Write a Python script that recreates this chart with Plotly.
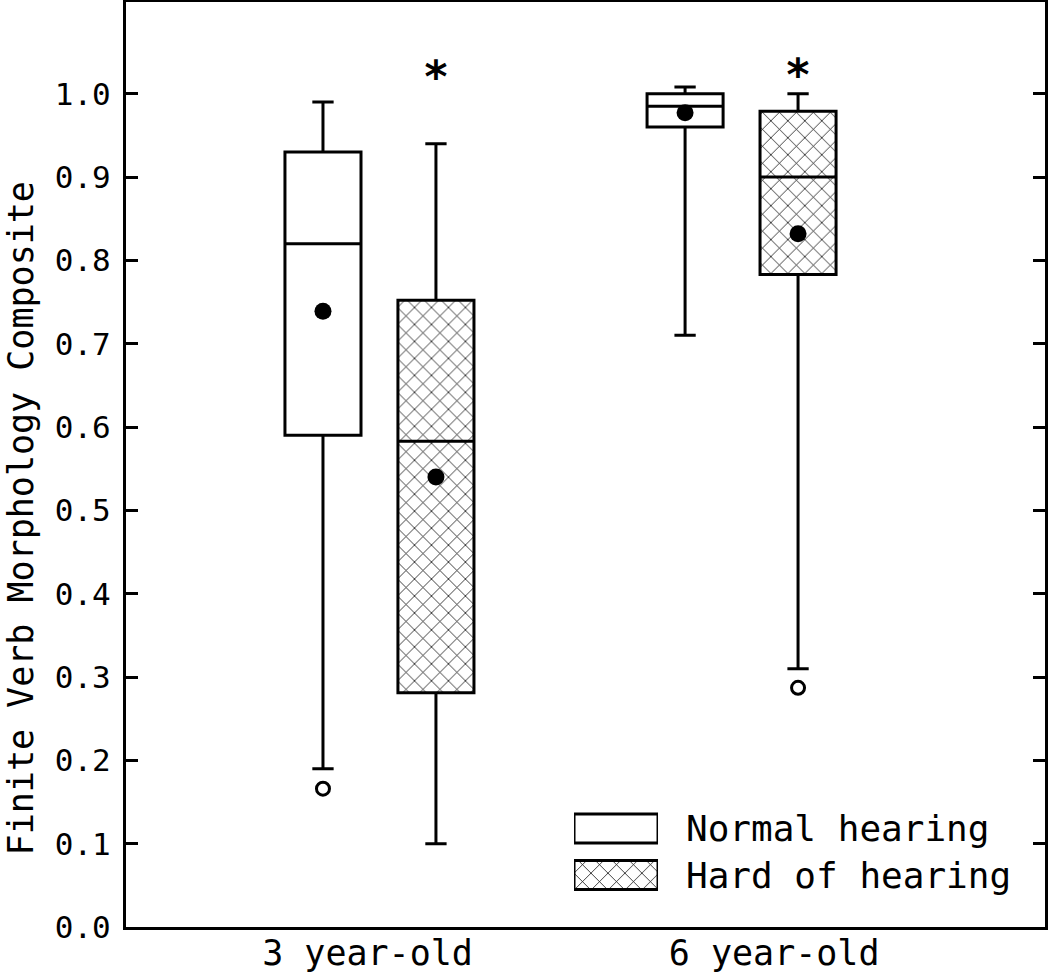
"""Box plots of finite verb morphology composite by age and hearing group."""

import plotly.graph_objects as go

# Groups on the x axis
ages = ["3 year-old", "6 year-old"]
age_pos = [1, 2]
age_label_pos = [0.967, 2.09]

# Normal hearing: five-number summary, mean, outliers
nh_lower = [0.19, 0.71]
nh_q1 = [0.59, 0.96]
nh_median = [0.82, 0.985]
nh_q3 = [0.93, 1.0]
nh_upper = [0.99, 1.008]
nh_mean = [0.739, 0.977]
nh_outlier_age = [0]
nh_outlier_val = [0.166]

# Hard of hearing
hh_lower = [0.10, 0.31]
hh_q1 = [0.281, 0.783]
hh_median = [0.583, 0.90]
hh_q3 = [0.752, 0.979]
hh_upper = [0.94, 1.0]
hh_mean = [0.540, 0.832]
hh_outlier_age = [1]
hh_outlier_val = [0.287]

# significance markers above the HH boxes
hh_sig = ["*", "*"]
hh_sig_y = [1.015, 1.018]

groups = ["Normal hearing", "Hard of hearing"]

OFFSET = 0.156
BOX_W = 0.21
FONT = "DejaVu Sans Mono"
HATCH = dict(fgcolor="black", bgcolor="white", fgopacity=1, size=12, solidity=0.12)


def shift(vals, d):
    return [v + d for v in vals]


def add_group(fig, name, xs, lower, q1, med, q3, upper, mean, out_x, out_y, hatched):
    pattern = dict(shape="x", **HATCH) if hatched else None
    # fill (hatch) under the box outline
    fig.add_trace(go.Bar(
        x=xs, y=[b - a for a, b in zip(q1, q3)], base=q1, width=BOX_W,
        marker=dict(color="white", line_width=0, pattern=pattern),
        showlegend=False, hoverinfo="skip",
    ))
    fig.add_trace(go.Box(
        x=xs, q1=q1, median=med, q3=q3, lowerfence=lower, upperfence=upper,
        width=BOX_W, whiskerwidth=0.28, fillcolor="rgba(0,0,0,0)",
        line=dict(color="black", width=3), boxpoints=False, name=name, showlegend=False,
    ))
    fig.add_trace(go.Scatter(
        x=xs, y=mean, mode="markers",
        marker=dict(color="black", size=17), showlegend=False,
    ))
    fig.add_trace(go.Scatter(
        x=[xs[i] for i in out_x], y=out_y, mode="markers",
        marker=dict(color="white", size=13, line=dict(color="black", width=3)),
        showlegend=False,
    ))


fig = go.Figure()
nh_x = shift(age_pos, -OFFSET)
hh_x = shift(age_pos, OFFSET)
add_group(fig, groups[0], nh_x, nh_lower, nh_q1, nh_median, nh_q3, nh_upper, nh_mean,
          nh_outlier_age, nh_outlier_val, False)
add_group(fig, groups[1], hh_x, hh_lower, hh_q1, hh_median, hh_q3, hh_upper, hh_mean,
          hh_outlier_age, hh_outlier_val, True)

fig.add_trace(go.Scatter(
    x=hh_x, y=hh_sig_y, mode="text", text=hh_sig,
    textfont=dict(family=FONT, size=44, color="black", weight="bold"), showlegend=False,
))

# legend drawn as swatches on a small hidden axis pair
fig.add_trace(go.Bar(
    y=groups, x=[1, 1], orientation="h", width=0.62, xaxis="x2", yaxis="y2",
    marker=dict(
        color="white", line=dict(color="black", width=3),
        pattern=dict(shape=["", "x"], **HATCH),
    ),
    cliponaxis=False, showlegend=False, hoverinfo="skip",
))

fig.update_layout(
    width=1050, height=979,
    margin=dict(l=126, r=5, t=2, b=52, autoexpand=False),
    paper_bgcolor="white", plot_bgcolor="white",
    barmode="overlay", showlegend=False,
    font=dict(family=FONT, size=36, color="black"),
    xaxis=dict(
        range=[0.300, 2.838], tickvals=age_label_pos, ticktext=ages,
        showline=True, linecolor="black", linewidth=3, mirror=True,
        ticks="", showgrid=False, zeroline=False, automargin=False,
        ticklabelstandoff=-7, tickfont=dict(size=35),
    ),
    yaxis=dict(
        range=[0, 1.11], tickvals=[i / 10 for i in range(11)], tickformat=".1f",
        showline=True, linecolor="black", linewidth=3, mirror="ticks",
        ticks="inside", ticklen=12, tickwidth=3, tickcolor="black",
        showgrid=False, zeroline=False, ticklabelstandoff=6, automargin=False,
        tickfont=dict(size=31),
    ),
    xaxis2=dict(
        domain=[0.4875, 0.5789], range=[0, 1], anchor="y2",
        visible=False, fixedrange=True, automargin=False,
    ),
    yaxis2=dict(
        domain=[0.0311, 0.1316], range=[-0.5, 1.5], anchor="x2", side="right",
        categoryorder="array", categoryarray=groups[::-1],
        showline=False, showgrid=False, zeroline=False, ticks="", automargin=False,
        ticklabelstandoff=27, tickfont=dict(size=36),
    ),
    annotations=[dict(
        text="Finite Verb Morphology Composite", textangle=-90,
        xref="paper", yref="paper", x=-0.114, y=0.442,
        xanchor="center", yanchor="middle", showarrow=False,
        font=dict(size=35),
    )],
)

# page body has a default 8px margin; drop it so the figure sits at the corner
fig.write_html(
    "out.html",
    config={"displayModeBar": False},
    post_script="document.body.style.margin='0';",
)
